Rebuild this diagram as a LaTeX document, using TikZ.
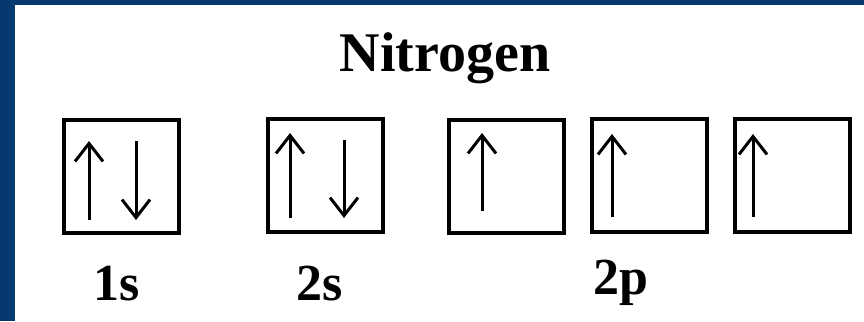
\documentclass[tikz,border=0pt]{standalone}
\usepackage{fontspec}
\setmainfont{Liberation Serif}
\usetikzlibrary{arrows.meta}
\definecolor{frameblue}{RGB}{6,57,110}

\begin{document}
\begin{tikzpicture}[x=1pt, y=-1pt,
	orbital/.style={draw, line width=4pt, minimum width=115pt, minimum height=113pt, inner sep=0pt},
	spin/.style={line width=3pt, -{Straight Barb[length=18pt, width=28pt, line width=3pt]}},
	lbl/.style={font=\fontsize{52}{56}\selectfont\bfseries, anchor=base}]
	\fill[frameblue] (0,0) rectangle (864,321);
	\fill[white] (15,5) rectangle (864,321);
	\useasboundingbox (0,0) rectangle (864,321);
	\node[font=\fontsize{56}{60}\selectfont\bfseries, anchor=base] (title) at (445,71) {Nitrogen};
	\node[orbital] (s1) at (121,176) {};
	\node[orbital] (s2) at (325,175) {};
	\node[orbital] (px) at (506,176) {};
	\node[orbital] (py) at (649,175) {};
	\node[orbital] (pz) at (792,175) {};
	\draw[spin] ([shift={(-32,44)}]s1.center) -- ++(0,-79);
	\draw[spin] ([shift={(15,-35)}]s1.center) -- ++(0,79);
	\draw[spin] ([shift={(-35,43)}]s2.center) -- ++(0,-85);
	\draw[spin] ([shift={(19,-35)}]s2.center) -- ++(0,78);
	\draw[spin] ([shift={(-24,35)}]px.center) -- ++(0,-78);
	\draw[spin] ([shift={(-37,42)}]py.center) -- ++(0,-83);
	\draw[spin] ([shift={(-39,42)}]pz.center) -- ++(0,-83);
	\node[lbl] (l1s) at (117,300) {1s};
	\node[lbl] (l2s) at (320,300) {2s};
	\node[lbl] (l2p) at (621,294) {2p};
\end{tikzpicture}
\end{document}
